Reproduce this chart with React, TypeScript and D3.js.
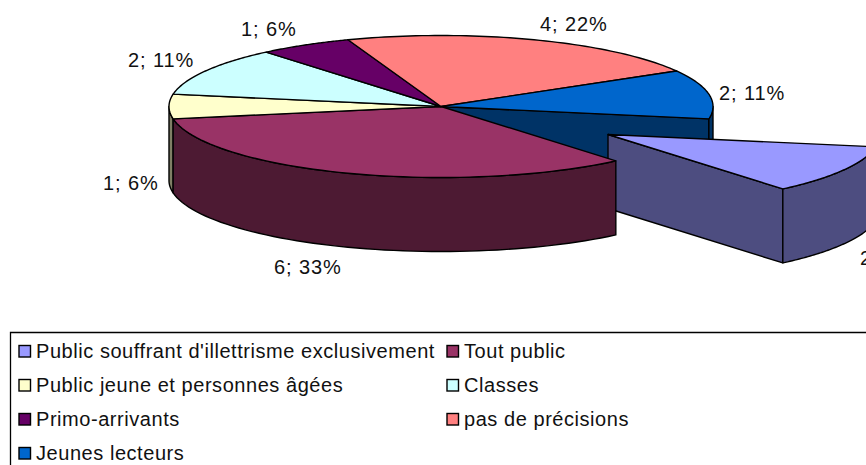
import React from "react";
import * as d3 from "d3";

const categories = ["Public souffrant d'illettrisme exclusivement", "Tout public", "Public jeune et personnes âgées", "Classes", "Primo-arrivants", "pas de précisions", "Jeunes lecteurs"];
const values = [2, 6, 1, 2, 1, 4, 2];
const topColors = ["#9999FF", "#993366", "#FFFFCC", "#CCFFFF", "#660066", "#FF8080", "#0066CC"];
const sideColors = ["#4D4D80", "#4D1A33", "#808066", "#668080", "#330033", "#804040", "#003366"];
const labelStarts: [number, number][] = [[860, 258], [274, 267], [103, 183], [128, 60], [241, 29], [540, 24], [719, 93]];

const W = 866, H = 465;
const cx = 441, cy = 106.5, rx = 272, ry = 71, depth = 74;
const explode: [number, number] = [167, 28];
const rad = (d: number) => (d * Math.PI) / 180;
const START = rad(100);

const slices = d3.pie<number>().sort(null).startAngle(START).endAngle(START + 2 * Math.PI)(values);
const total = d3.sum(values);

const pt = (a: number, ox = 0, oy = 0, dz = 0): [number, number] => [cx + ox + rx * Math.sin(a), cy + oy + dz - ry * Math.cos(a)];
const line = d3.line();
const arcPts = (a0: number, a1: number, ox = 0, oy = 0, dz = 0) =>
  d3.range(0, 61).map((i) => pt(a0 + ((a1 - a0) * i) / 60, ox, oy, dz));

const topPath = (a0: number, a1: number, ox = 0, oy = 0) =>
  line([[cx + ox, cy + oy], ...arcPts(a0, a1, ox, oy)])! + "Z";
const wallPath = (a0: number, a1: number, ox = 0, oy = 0) =>
  line([...arcPts(a0, a1, ox, oy), ...arcPts(a1, a0, ox, oy, depth)])! + "Z";
const facePath = (a: number, ox = 0, oy = 0) =>
  line([[cx + ox, cy + oy], pt(a, ox, oy), pt(a, ox, oy, depth), [cx + ox, cy + oy + depth]])! + "Z";

const legendX = [18, 446];
const legendY = [351, 385, 419, 453];
const font = "'Liberation Sans', Arial, sans-serif";

export default function App() {
  const s = slices;
  const e = explode;
  const common = { stroke: "#000", strokeWidth: 1.4, strokeLinejoin: "round" as const };
  return (
    <svg width={W} height={H} style={{ position: "fixed", left: 0, top: 0, background: "#fff" }} fontFamily={font}>
      <path d={facePath(START)} fill={sideColors[6]} {...common} />
      <path d={wallPath(rad(90), rad(100))} fill={sideColors[6]} {...common} />
      <path d={facePath(s[0].endAngle, e[0], e[1])} fill={sideColors[0]} {...common} />
      <path d={wallPath(s[0].startAngle, s[0].endAngle, e[0], e[1])} fill={sideColors[0]} {...common} />
      <path d={topPath(s[0].startAngle, s[0].endAngle, e[0], e[1])} fill={topColors[0]} {...common} />
      <path d={wallPath(rad(260), rad(270))} fill={sideColors[2]} {...common} />
      <path d={wallPath(s[1].startAngle, s[1].endAngle)} fill={sideColors[1]} {...common} />
      {s.slice(1).map((d, i) => (
        <path key={i} d={topPath(d.startAngle, d.endAngle)} fill={topColors[i + 1]} {...common} />
      ))}
      {values.map((v, i) => (
        <text key={i} x={labelStarts[i][0]} y={labelStarts[i][1]} dominantBaseline="central" fontSize={20} letterSpacing={0.9} fill="#111">
          {`${v}; ${Math.round((v / total) * 100)}%`}
        </text>
      ))}
      <path d={`M${W + 2},332.5H10.5V${H + 2}`} fill="none" stroke="#000" strokeWidth={1.3} />
      {categories.map((c, i) => {
        const x = legendX[i % 2];
        const y = legendY[Math.floor(i / 2)];
        return (
          <g key={i}>
            <rect x={x + 1} y={y - 5.5} width={11.5} height={11.5} fill={topColors[i]} stroke="#000" strokeWidth={1.4} />
            <text x={x + 18} y={y + 6.5} fontSize={20} letterSpacing={0.55} fill="#111">{c}</text>
          </g>
        );
      })}
    </svg>
  );
}
